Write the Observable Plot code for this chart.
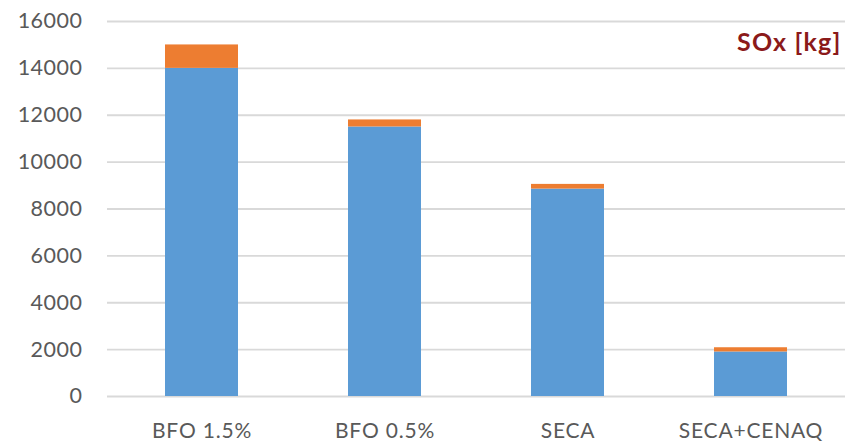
<!DOCTYPE html>
<html>
<head>
<meta charset="utf-8">
<script src="https://cdn.jsdelivr.net/npm/d3@7"></script>
<script src="https://cdn.jsdelivr.net/npm/@observablehq/plot@0.6"></script>
<style>
  html, body { margin: 0; padding: 0; background: #fff; }
  #chart svg { display: block; }
  #chart svg g[aria-label="x-axis tick label"] text { letter-spacing: 0.8px; }
  #chart svg g[aria-label="y-axis tick label"] text { letter-spacing: 0.5px; }
  #chart svg g[aria-label="text"] text { letter-spacing: 1.2px; }
</style>
</head>
<body>
<div id="chart"></div>
<script>
const categories = ["BFO 1.5%", "BFO 0.5%", "SECA", "SECA+CENAQ"];
const seriesNames = ["Series1", "Series2"];
const series1 = [14000, 11500, 8850, 1900];
const series2 = [1000, 300, 200, 180];
const yTicks = [0, 2000, 4000, 6000, 8000, 10000, 12000, 14000, 16000];
const title = "SOx [kg]";

const data = [];
categories.forEach((c, i) => {
  data.push({cat: c, series: seriesNames[0], value: series1[i]});
  data.push({cat: c, series: seriesNames[1], value: series2[i]});
});

const chart = Plot.plot({
  width: 845,
  height: 443,
  marginLeft: 107,
  marginRight: 0,
  marginTop: 21,
  marginBottom: 47,
  style: {fontFamily: "Lato, 'Open Sans', sans-serif", fontSize: "21px", color: "#595959", background: "#fff"},
  x: {domain: categories, paddingInner: 0.6, paddingOuter: 0.31, label: null},
  y: {domain: [0, 16000], label: null},
  color: {domain: seriesNames, range: ["#5B9BD5", "#ED7D31"]},
  marks: [
    Plot.gridY(yTicks, {stroke: "#d9d9d9", strokeOpacity: 1, strokeWidth: 1.8}),
    Plot.barY(data, {x: "cat", y: "value", fill: "series", order: seriesNames}),
    Plot.axisX({tickSize: 0, tickPadding: 27, fontSize: 21, fill: "#595959"}),
    Plot.axisY({ticks: yTicks, tickSize: 0, tickPadding: 25, fontSize: 21.5, fill: "#595959", tickFormat: d => String(d)}),
    Plot.text([title], {text: d => d, frameAnchor: "top-right", dx: -4, dy: 12, fill: "#8B1A1A", fontWeight: "bold", fontSize: 25, textAnchor: "end"})
  ]
});
document.getElementById("chart").appendChild(chart);
</script>
</body>
</html>
